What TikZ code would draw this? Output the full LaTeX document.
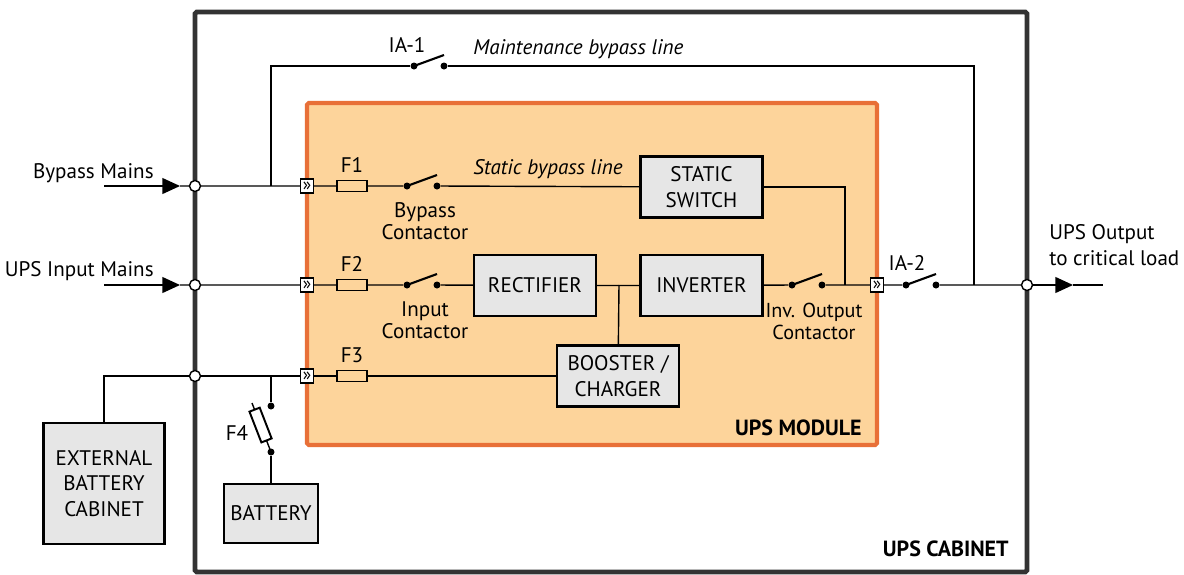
\documentclass[tikz,border=0pt]{standalone}
\usepackage{fontspec}
\setmainfont{PT Sans}
\usetikzlibrary{arrows.meta,calc}
\definecolor{modfill}{RGB}{253,212,155}
\definecolor{modline}{RGB}{232,112,56}
\definecolor{boxfill}{RGB}{230,230,230}
\definecolor{cabline}{RGB}{51,51,51}
\tikzset{
  wire/.style={line width=0.8pt},
  feed/.style={wire,-{Triangle[length=10pt,width=9pt]}},
  blk/.style={draw,line width=1.3pt,fill=boxfill,align=center,inner sep=1pt,
    font=\fontsize{12}{14.5}\selectfont,minimum width=2.44cm,minimum height=1.22cm},
  jct/.style={circle,draw,fill=white,line width=0.8pt,inner sep=0pt,minimum size=0.22cm},
  dot/.style={circle,fill,inner sep=0pt,minimum size=0.14cm},
  fuse/.style={draw,line width=1.1pt,inner sep=0pt,minimum width=0.6cm,minimum height=0.22cm},
  plug/.style={draw,fill=white,line width=0.6pt,inner sep=0pt,minimum width=0.26cm,
    minimum height=0.28cm,font=\fontsize{10}{10}\selectfont},
  lbl/.style={font=\fontsize{12}{12.5}\selectfont,inner sep=0pt,align=center},
  title/.style={font=\fontsize{12.5}{14}\selectfont\bfseries,inner sep=0pt}
}
\begin{document}
\begin{tikzpicture}[x=0.02cm,y=-0.02cm]
  \useasboundingbox (0,0) rectangle (1184,575);
  % cabinet and module
  \draw[cabline,line width=2.8pt,rounded corners=1pt] (195,12) rectangle (1027,572);
  \draw[modline,fill=modfill,line width=2.3pt,rounded corners=1pt] (307,103) rectangle (877,445);
  \node[title,anchor=east] (modname) at (862,428) {UPS MODULE};
  \node[title,anchor=east] (cabname) at (1009,549) {UPS CABINET};

  % blocks
  \node[blk] (ss) at (701.5,187) {STATIC\\SWITCH};
  \node[blk] (rect) at (535,285.5) {RECTIFIER};
  \node[blk] (inv) at (701.5,285.5) {INVERTER};
  \node[blk] (boost) at (618,376) {BOOSTER /\\CHARGER};
  \node[blk,minimum width=2.42cm,minimum height=2.42cm] (ext) at (104,483.5) {EXTERNAL\\BATTERY\\CABINET};
  \node[blk,minimum width=1.88cm,minimum height=1.18cm] (bat) at (271,513.5) {BATTERY};

  % junctions on the cabinet wall, plugs on the module wall
  \foreach \n/\x/\y in {bpj/195/186, inj/195/285, btj/195/376, outj/1027/285}
    \node[jct] (\n) at (\x,\y) {};
  \foreach \n/\x/\y in {pl1/307/186, pl2/307/285, pl3/307/376, pl4/877/285}
    \node[plug] (\n) at (\x,\y) {»};

  % fuses
  \foreach \n/\y/\t in {f1/186/F1, f2/285/F2, f3/376/F3}{
    \node[fuse] (\n) at (352,\y) {};
    \node[lbl] (\n-lbl) at (352,\y-21) {\t};
  }

  % switches
  \foreach \n/\x/\y in {ia1/414/66, bc/407/186, ic/407/285, oc/792/285, ia2/906/285}{
    \node[dot] (\n-l) at (\x,\y) {};
    \node[dot] (\n-r) at (\x+30,\y) {};
    \draw[wire,line width=1.2pt] (\n-l.center) -- ++(30,-11);
  }

  % points on the wires
  \coordinate (bpin) at (104,186);
  \coordinate (bptip) at (180,186);
  \coordinate (inin) at (104,285);
  \coordinate (intip) at (180,285);
  \coordinate (mtap) at (271,186);
  \coordinate (mout) at (974,285);
  \coordinate (ssout) at (845,285);
  \coordinate (dcj) at (619,285);
  \coordinate (outtip) at (1073,285);
  \coordinate (outend) at (1103,285);
  \coordinate (btap) at (271,376);
  \coordinate (f4x) at (252,403);
  \node[dot] (f4t) at (271,406) {};
  \node[dot] (f4b) at (271,452) {};

  % bypass line
  \draw[feed] (bpin) -- (bptip);
  \draw[wire] (bptip) -- (bpj) (bpj) -- (pl1) (pl1) -- (f1) (f1) -- (bc-l) (bc-r) -- (ss);
  \draw[wire] (ss.east) -| (ssout);
  \draw[wire] (mtap) |- (ia1-l) (ia1-r) -| (mout);
  % input line
  \draw[feed] (inin) -- (intip);
  \draw[wire] (intip) -- (inj) (inj) -- (pl2) (pl2) -- (f2) (f2) -- (ic-l) (ic-r) -- (rect)
    (rect) -- (inv) (inv) -- (oc-l) (oc-r) -- (pl4) (pl4) -- (ia2-l) (ia2-r) -- (outj);
  \draw[wire] (dcj) -- (boost);
  \draw[feed] (outj) -- (outtip);
  \draw[wire] (outtip) -- (outend);
  % battery line
  \draw[wire] (ext.north) |- (btj);
  \draw[wire] (btj) -- (pl3) (pl3) -- (f3) (f3) -- (boost);
  \draw[wire] (btap) -- (f4t);
  \draw[wire] (f4b.center) -- node[fuse,fill=white,sloped,pos=0.55,minimum width=0.66cm] (f4) {} (f4x);
  \draw[wire] (f4b) -- (bat);

  % texts
  \node[lbl,anchor=east] (bpname) at (154,173) {Bypass Mains};
  \node[lbl,anchor=east] (inname) at (154,271) {UPS Input Mains};
  \node[lbl,anchor=west,align=left,font=\fontsize{12}{14.7}\selectfont] (outname) at (1049,245) {UPS Output\\to critical load};
  \node[lbl] (bc-lbl) at (425,221) {Bypass\\Contactor};
  \node[lbl] (ic-lbl) at (425,320) {Input\\Contactor};
  \node[lbl,font=\fontsize{11.5}{12.5}\selectfont] (oc-lbl) at (814,321) {Inv. Output\\Contactor};
  \node[lbl] (ia1-lbl) at (407,45) {IA-1};
  \node[lbl] (ia2-lbl) at (907,263) {IA-2};
  \node[lbl] (f4-lbl) at (237,433) {F4};
  \node[lbl,anchor=west,font=\fontsize{12}{12.5}\selectfont\itshape] (mname) at (473,49) {Maintenance bypass line};
  \node[lbl,anchor=west,font=\fontsize{12}{12.5}\selectfont\itshape] (sname) at (473,169) {Static bypass line};
\end{tikzpicture}
\end{document}
